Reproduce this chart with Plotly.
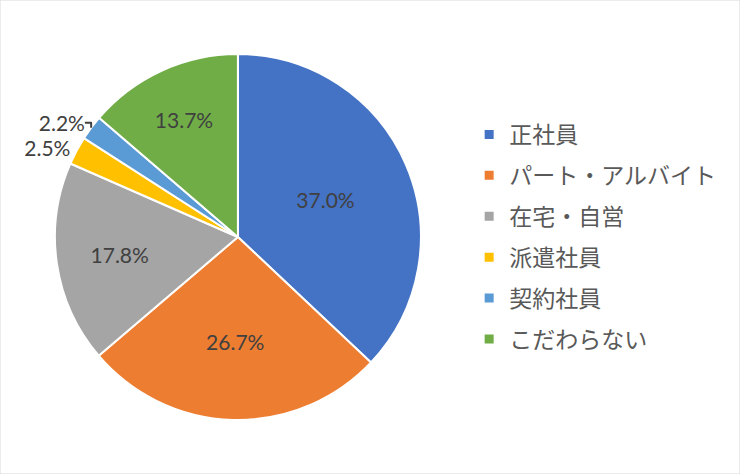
import plotly.graph_objects as go

## data

categories = ['正社員', 'パート・アルバイト', '在宅・自営', '派遣社員', '契約社員', 'こだわらない']
shares = [37.0, 26.7, 17.8, 2.5, 2.2, 13.7]
colors = ['#4472C4', '#ED7D31', '#A5A5A5', '#FFC000', '#5B9BD5', '#70AD47']
label_pos = ['inside', 'inside', 'inside', 'outside', 'outside', 'inside']

## pie (own legend hidden, see below)

fig = go.Figure(go.Pie(
    labels=categories, values=shares,
    sort=False, direction='clockwise', rotation=0,
    marker=dict(colors=colors, line=dict(color='white', width=2)),
    texttemplate='%{value:.1f}%', textposition=label_pos,
    insidetextorientation='horizontal',
    textfont=dict(family='Lato, Noto Sans CJK JP', size=21, color='#404040'),
    domain=dict(x=[0.0, 0.643], y=[0.114, 0.886]),
    hoverinfo='label+percent',
    showlegend=False,
))

# legend entries as empty square markers so the gap between rows can be set
for name, col in zip(categories, colors):
    fig.add_trace(go.Scatter(
        x=[None], y=[None], mode='markers', name=name,
        legendgroup=name,
        marker=dict(symbol='square', size=9, color=col),
    ))

fig.update_layout(
    width=740, height=474,
    margin=dict(l=0, r=0, t=0, b=0, autoexpand=False),
    paper_bgcolor='white', plot_bgcolor='white',
    xaxis=dict(visible=False), yaxis=dict(visible=False),
    font=dict(family='Noto Sans CJK JP', color='#595959'),
    legend=dict(x=0.634, y=0.5, xanchor='left', yanchor='middle',
                itemwidth=30, tracegroupgap=8,
                font=dict(size=23, color='#595959')),
    shapes=[dict(type='rect', xref='paper', yref='paper', x0=0, y0=0, x1=1, y1=1,
                 line=dict(color='#D9D9D9', width=1))],
)

# page body has a default margin, drop it so the chart fills the window
fig.write_html("out.html", config={'displayModeBar': False},
               post_script="document.body.style.margin='0';")
